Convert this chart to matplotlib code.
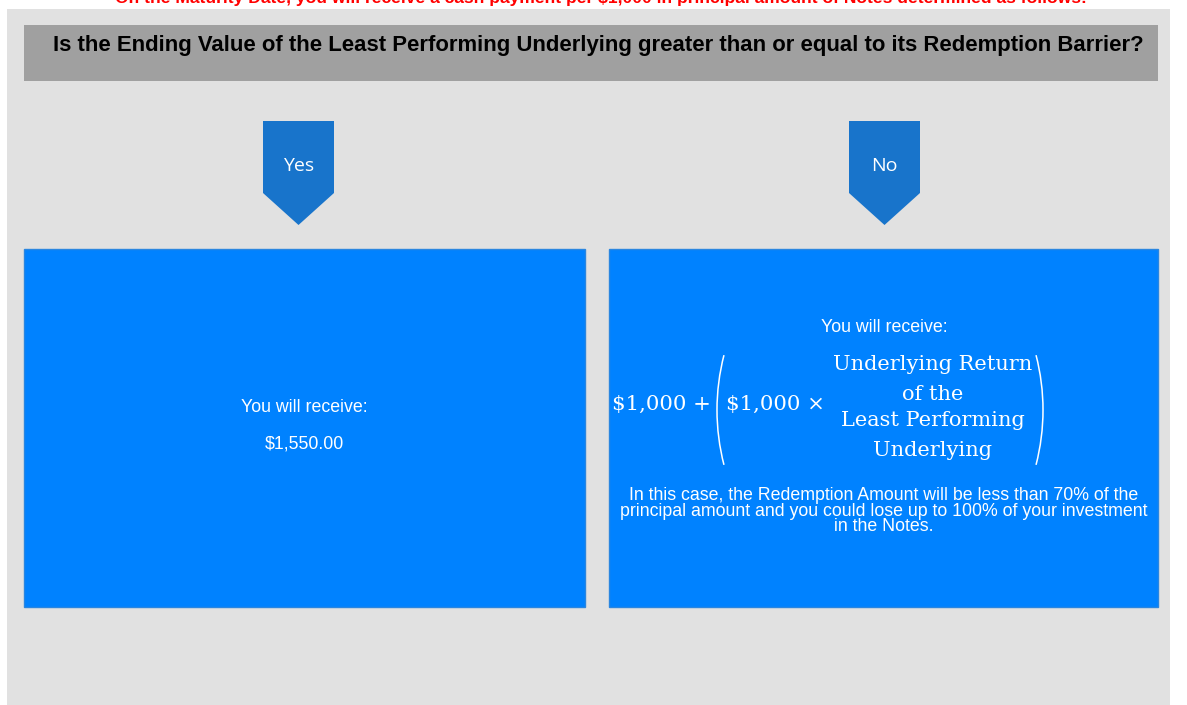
import matplotlib.pyplot as plt
from matplotlib.patches import Rectangle, Polygon, Arc

# texts of the diagram
top_note = ("On the Maturity Date, you will receive a cash payment per $1,000 "
            "in principal amount of Notes determined as follows:")
question = ("Is the Ending Value of the Least Performing Underlying greater than "
            "or equal to its Redemption Barrier?")
answers = ["Yes", "No"]
yes_lines = ["You will receive:", "$1,550.00"]
no_head = "You will receive:"
no_terms = ["$1,000 +", "$1,000 \u00d7"]
no_fraction = ["Underlying Return", "of the", "Least Performing", "Underlying"]
no_note = ("In this case, the Redemption Amount will be less than 70% of the\n"
           "principal amount and you could lose up to 100% of your investment\n"
           "in the Notes.")

W, H = 1187, 705
fig = plt.figure(figsize=(W / 100, H / 100), dpi=100)
ax = fig.add_axes([0, 0, 1, 1])
ax.set_xlim(0, W)
ax.set_ylim(H, 0)
ax.axis("off")

sans = "Liberation Sans"
box_blue = "#0082ff"
arrow_blue = "#1874cb"

# background panel and question bar
ax.add_patch(Rectangle((7, 9), 1163, 700, facecolor="#e1e1e1", edgecolor="none"))
ax.add_patch(Rectangle((24, 25), 1134, 56, facecolor="#a0a0a0", edgecolor="none"))
ax.text(601, -1, top_note, ha="center", va="center", color="red",
        fontsize=12.6, fontweight="bold", family=sans)
ax.text(53, 46, question, ha="left", va="center", color="black",
        fontsize=15.9, fontweight="bold", family=sans)

# Yes / No arrows
for label, x0 in zip(answers, [263, 849]):
    pts = [(x0, 121), (x0 + 71, 121), (x0 + 71, 193), (x0 + 35.5, 225), (x0, 193)]
    ax.add_patch(Polygon(pts, closed=True, facecolor=arrow_blue, edgecolor="none"))
    ax.text(x0 + 35.5, 166, label, ha="center", va="center", color="white",
            fontsize=14, family="Open Sans")

# outcome boxes
ax.add_patch(Rectangle((24, 249), 561, 358, facecolor=box_blue, edgecolor="#2a86e0", lw=1))
ax.add_patch(Rectangle((609, 249), 549, 358, facecolor=box_blue, edgecolor="#2a86e0", lw=1))

# Yes box text
for txt, y in zip(yes_lines, [408, 444]):
    ax.text(304, y, txt, ha="center", va="center", color="white",
            fontsize=12.8, family=sans)

# No box text
ax.text(884, 328, no_head, ha="center", va="center", color="white",
        fontsize=12.8, family=sans)
ax.text(612, 404, no_terms[0], ha="left", va="center", color="white",
        fontsize=15.3, family="DejaVu Serif")
ax.text(726, 404, no_terms[1], ha="left", va="center", color="white",
        fontsize=15.3, family="DejaVu Serif")
for txt, y in zip(no_fraction, [364, 394, 420, 450]):
    ax.text(933, y, txt, ha="center", va="center", color="white",
            fontsize=15, family="DejaVu Serif")

# big parentheses (shallow arcs of a large circle)
r = 219
ax.add_patch(Arc((717 + r, 410), 2 * r, 2 * r, theta1=165.5, theta2=194.5,
                 color="white", lw=1.1))
ax.add_patch(Arc((1043 - r, 410), 2 * r, 2 * r, theta1=-14.5, theta2=14.5,
                 color="white", lw=1.1))

ax.text(884, 511, no_note, ha="center", va="center", color="white",
        fontsize=12.8, family=sans, linespacing=0.9)

fig.savefig("out.png", dpi=100, facecolor="white")
